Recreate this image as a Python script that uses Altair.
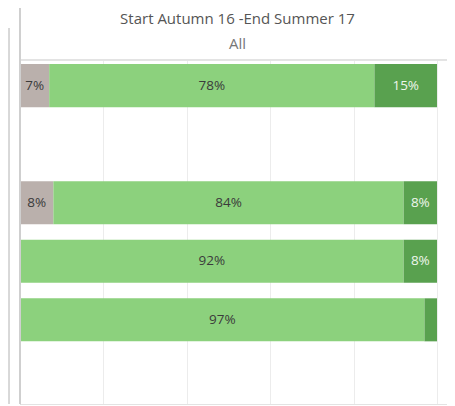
import altair as alt
import pandas as pd

# ---- data ----
rows = ["Row 1", "Row 2", "Row 3", "Row 4"]
row_domain = ["Row 1", "blank 1", "Row 2", "Row 3", "Row 4", "blank 2"]
segments = ["Below", "Expected", "Above"]
below = [7, 8, 0, 0]
expected = [78, 84, 92, 97]
above = [15, 8, 8, 3]
seg_colors = ["#bab0ac", "#8cd17d", "#59a14f"]
grid_values = [0, 20, 40, 60, 80, 100]
header_title = "Start Autumn 16 -End Summer 17"
header_sub = "All"

records = []
for i, r in enumerate(rows):
    for k, (seg, vals) in enumerate(zip(segments, [below, expected, above])):
        records.append({"row": r, "segment": seg, "order": k, "value": vals[i]})
df = pd.DataFrame(records)

FONT = "Open Sans"
W, H = 427, 344

y_scale = alt.Scale(domain=row_domain, paddingInner=0.265, paddingOuter=0.07)
y_enc = alt.Y(
    "row:N", scale=y_scale,
    axis=alt.Axis(labels=False, ticks=False, title=None, grid=False,
                  domainColor="#cfcfcf"),
)
x_scale = alt.Scale(domain=[0, 102.4], nice=False, zero=True)

base = alt.Chart(df).transform_stack(
    stack="value", groupby=["row"], as_=["x0", "x1"],
    sort=[alt.SortField("order", order="ascending")],
).transform_calculate(
    mid="(datum.x0 + datum.x1) / 2",
    label="datum.value + '%'",
)

bars = base.mark_bar().encode(
    y=y_enc,
    x=alt.X("x0:Q", scale=x_scale,
            axis=alt.Axis(values=grid_values, labels=False, ticks=False, title=None,
                          grid=True, gridColor="#ececec", domainColor="#e3e3e3")),
    x2="x1:Q",
    color=alt.Color("segment:N", scale=alt.Scale(domain=segments, range=seg_colors),
                    legend=None),
)

labels = base.transform_filter("datum.value >= 5").mark_text(
    font=FONT, fontSize=13.5
).encode(
    y=alt.Y("row:N", scale=y_scale),
    x=alt.X("mid:Q", scale=x_scale),
    text="label:N",
    color=alt.condition("datum.segment == 'Above'", alt.value("#eef6ec"), alt.value("#3b3b3b")),
)

head_df = pd.DataFrame({"t": [header_title, header_sub], "yy": [-36, -11],
                        "c": ["#555555", "#777777"]})
header = alt.Chart(head_df).mark_text(
    font=FONT, fontSize=15, baseline="alphabetic", align="center"
).encode(
    x=alt.value(W / 2 + 4),
    y=alt.Y("yy:Q", scale=None),
    text="t:N",
    color=alt.Color("c:N", scale=None),
)

top_line = alt.Chart(df).mark_rule(color="#e3e3e3").encode(
    y=alt.value(0), x=alt.value(0), x2=alt.value(W)
)
left_line = alt.Chart(df).mark_rule(color="#cfcfcf").encode(
    x=alt.value(0), y=alt.value(-52), y2=alt.value(H)
)
far_left_line = alt.Chart(df).mark_rule(color="#d8d8d8").encode(
    x=alt.value(-11), y=alt.value(-32), y2=alt.value(H)
)

chart = alt.layer(bars, labels, header, top_line, left_line, far_left_line).properties(
    width=W,
    height=H,
    autosize="none",
    padding={"left": 12, "top": 52, "right": 0, "bottom": 2},
).configure_view(stroke=None)

chart.save("out.html", embed_options={"renderer": "svg", "actions": False})
